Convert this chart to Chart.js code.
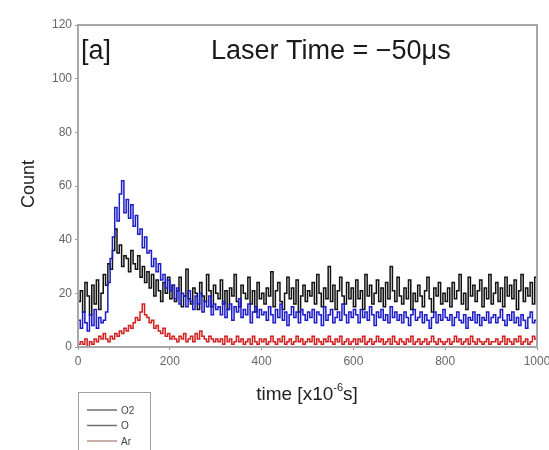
<!DOCTYPE html>
<html><head><meta charset="utf-8">
<script src="https://cdn.jsdelivr.net/npm/chart.js@4/dist/chart.umd.min.js"></script>
<style>html,body{margin:0;padding:0;background:#fff;}#wrap{width:549px;height:450px;}</style>
</head><body><div id="wrap"><canvas id="c" width="549" height="450"></canvas></div>
<script>
const times = [
0,5,10,15,20,25,30,35,40,45,50,55,60,65,70,75,80,85,90,95,
100,105,110,115,120,125,130,135,140,145,150,155,160,165,170,175,180,185,190,195,
200,205,210,215,220,225,230,235,240,245,250,255,260,265,270,275,280,285,290,295,
300,305,310,315,320,325,330,335,340,345,350,355,360,365,370,375,380,385,390,395,
400,405,410,415,420,425,430,435,440,445,450,455,460,465,470,475,480,485,490,495,
500,505,510,515,520,525,530,535,540,545,550,555,560,565,570,575,580,585,590,595,
600,605,610,615,620,625,630,635,640,645,650,655,660,665,670,675,680,685,690,695,
700,705,710,715,720,725,730,735,740,745,750,755,760,765,770,775,780,785,790,795,
800,805,810,815,820,825,830,835,840,845,850,855,860,865,870,875,880,885,890,895,
900,905,910,915,920,925,930,935,940,945,950,955,960,965,970,975,980,985,990,995,
1000];
const seriesO2 = [
17,21,13,24,19,12,23,16,25,14,20,
27,23,31,29,36,44,35,38,30,
34,33,28,36,31,29,34,26,30,24,28,
22,27,19,25,21,17,24,20,26,18,
23,17,21,26,15,19,29,18,16,22,20,14,24,19,17,27,21,15,23,20,
18,25,16,21,14,22,19,27,17,15,23,20,18,26,16,21,13,24,18,20,
16,22,19,28,15,21,24,17,14,20,26,18,22,16,25,13,19,23,17,21,
19,24,16,27,20,15,22,18,30,17,23,14,21,26,19,16,24,18,22,15,
25,18,21,14,27,19,23,16,20,25,17,22,15,24,18,30,21,17,26,19,
16,22,18,25,14,20,17,23,19,15,21,26,18,13,22,19,24,16,20,17,
22,15,24,18,21,27,16,20,14,26,19,23,17,21,25,15,22,18,27,16,
20,24,17,22,15,26,19,23,18,25,14,21,27,17,22,19,24,16,26,20];
const seriesO = [
10,7,13,9,6,12,8,14,7,11,9,
10,13,24,33,41,52,47,57,62,
50,55,48,53,45,49,42,44,37,41,35,
36,30,33,28,31,25,27,22,25,21,
23,18,22,16,20,19,15,21,17,14,19,16,20,13,17,15,19,12,16,14,
15,12,17,11,14,16,10,15,13,18,11,14,12,16,9,13,15,11,14,12,
13,10,15,12,9,14,11,16,10,13,8,12,15,11,13,9,14,12,10,13,
11,14,9,13,12,8,15,10,12,14,9,11,13,10,16,12,9,13,11,14,
12,9,14,11,13,10,15,12,8,13,11,14,10,12,9,15,11,13,10,12,
9,13,11,8,12,14,10,11,13,9,12,10,7,11,13,9,12,10,14,11,
10,12,8,11,13,10,9,12,7,11,10,13,9,12,8,11,10,13,9,11,
12,9,11,14,10,8,12,10,13,9,11,8,12,10,7,11,13,9,10,8];
const seriesAr = [
1,2,1,3,0,2,1,3,2,4,3,
5,3,2,4,3,5,4,6,5,
7,6,8,7,9,11,10,13,16,12,11,
9,10,7,8,6,5,7,4,5,3,
4,3,2,4,3,5,2,3,4,2,5,3,6,4,3,2,4,3,2,3,
2,3,1,4,2,3,1,2,4,2,3,1,2,3,1,4,2,1,3,2,
3,1,2,4,2,1,3,2,4,1,2,3,1,2,4,2,3,1,2,3,
2,4,1,3,2,1,3,2,4,2,1,3,2,4,1,2,3,1,2,3,
1,3,2,4,1,2,3,1,2,4,2,3,1,2,3,1,4,2,1,3,
2,1,3,2,4,1,2,3,1,2,3,1,2,4,2,1,3,2,1,2,
3,1,2,4,2,3,1,2,3,1,4,2,1,3,2,1,2,3,1,2,
2,3,1,2,4,1,3,2,1,3,2,4,1,2,3,1,2,4,3,5];
const seriesLabels = ['O2','O','Ar'];
const lineColors = ['#111111','#1c1cc8','#d42020'];
const legendColors = ['#6e6e6e','#70707a','#b8948c'];
const allSeries = [seriesO2, seriesO, seriesAr];
const drawOrder = [2,1,0];

const FONT = '"Liberation Sans", Arial, sans-serif';

const decor = {
  id: 'decor',
  afterDraw(chart) {
    const ctx = chart.ctx;
    const a = chart.chartArea;
    ctx.save();
    ctx.strokeStyle = '#a8a8a8';
    ctx.lineWidth = 2;
    ctx.strokeRect(a.left, a.top, a.right - a.left, a.bottom - a.top);
    ctx.fillStyle = '#1a1a1a';
    ctx.textBaseline = 'alphabetic';
    ctx.textAlign = 'left';
    ctx.font = '27px ' + FONT;
    ctx.fillText('[a]', 81, 59);
    ctx.fillText('Laser Time = \u221250\u03bcs', 211, 59);
    ctx.save();
    ctx.translate(34, 184);
    ctx.rotate(-Math.PI / 2);
    ctx.textAlign = 'center';
    ctx.font = '18px ' + FONT;
    ctx.fillStyle = '#222';
    ctx.fillText('Count', 0, 0);
    ctx.restore();
    ctx.font = '19px ' + FONT;
    ctx.fillStyle = '#222';
    const p1 = 'time [x10', p2 = '-6', p3 = 's]';
    const w1 = ctx.measureText(p1).width;
    ctx.font = '11px ' + FONT;
    const w2 = ctx.measureText(p2).width;
    ctx.font = '19px ' + FONT;
    const w3 = ctx.measureText(p3).width;
    let x0 = 307 - (w1 + w2 + w3) / 2;
    const by = 400;
    ctx.fillText(p1, x0, by);
    ctx.font = '11px ' + FONT;
    ctx.fillText(p2, x0 + w1, by - 9);
    ctx.font = '19px ' + FONT;
    ctx.fillText(p3, x0 + w1 + w2, by);
    ctx.strokeStyle = '#a0a0a0';
    ctx.lineWidth = 1;
    ctx.strokeRect(78.5, 392.5, 72, 70);
    ctx.font = '10px ' + FONT;
    ctx.textBaseline = 'middle';
    chart.data.datasets.forEach((ds, i) => {
      const y = 410 + i * 15.5;
      ctx.strokeStyle = legendColors[i];
      ctx.lineWidth = 1.5;
      ctx.beginPath();
      ctx.moveTo(87, y);
      ctx.lineTo(117, y);
      ctx.stroke();
      ctx.fillStyle = '#444';
      ctx.fillText(ds.label, 121, y + 1);
    });
    ctx.restore();
  }
};

new Chart(document.getElementById('c'), {
  type: 'line',
  data: {
    datasets: allSeries.map((s, i) => ({
      label: seriesLabels[i],
      data: times.map((t, k) => ({ x: t, y: s[k] })),
      borderColor: lineColors[i],
      borderWidth: 1.5,
      pointRadius: 0,
      stepped: true,
      fill: false,
      order: drawOrder[i]
    }))
  },
  options: {
    responsive: false,
    animation: false,
    devicePixelRatio: 1,
    layout: { padding: { left: 0, right: 12, top: 25, bottom: 0 } },
    plugins: { legend: { display: false }, tooltip: { enabled: false } },
    scales: {
      x: {
        type: 'linear', min: 0, max: 1000,
        ticks: { stepSize: 200, color: '#666', font: { size: 12, family: FONT }, padding: 4, maxRotation: 0,
                 callback: v => String(v) },
        grid: { display: true, drawOnChartArea: false, drawTicks: true, tickLength: 3, color: '#999' },
        border: { display: false },
        afterFit: s => { s.height = 103; s.paddingLeft = 0; s.paddingRight = 0; }
      },
      y: {
        min: 0, max: 120,
        ticks: { stepSize: 20, color: '#666', font: { size: 12, family: FONT }, padding: 3 },
        grid: { display: true, drawOnChartArea: false, drawTicks: true, tickLength: 3, color: '#999' },
        border: { display: false },
        afterFit: s => { s.width = 78; s.paddingTop = 0; s.paddingBottom = 0; }
      }
    }
  },
  plugins: [decor]
});
</script>
</body></html>
